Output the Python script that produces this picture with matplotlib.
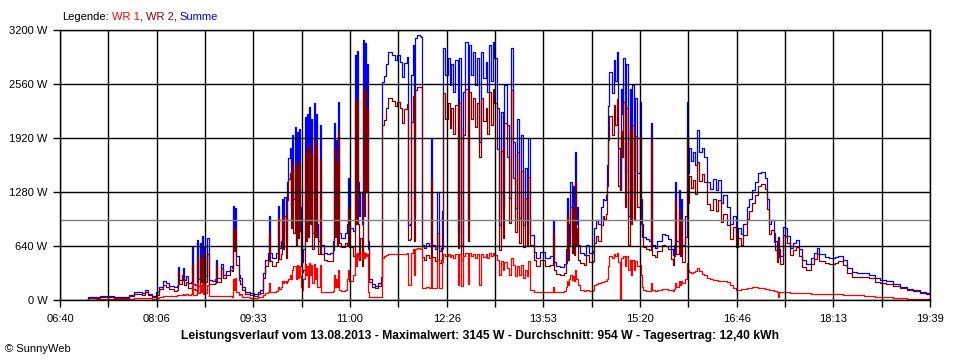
import numpy as np
import matplotlib
matplotlib.use("Agg")
import matplotlib.pyplot as plt
from matplotlib.ticker import FixedLocator, FuncFormatter

plt.rcParams["font.family"] = ["Liberation Sans", "DejaVu Sans"]

# Zeit in Minuten seit Mitternacht (06:40 = 400), Leistung in W
minutes = [
    424, 425, 432, 436, 442, 448, 454, 458, 462, 466,
    470, 473, 476, 479, 482, 486, 489, 492, 495, 498,
    502, 505, 506, 507, 509, 510, 511, 513, 515, 517,
    518, 519, 521, 523, 524, 525, 526, 527, 528, 529,
    530, 532, 533, 536, 539, 540, 541, 544, 546, 549,
    552, 554, 555, 556, 557, 558, 560, 561, 563, 566,
    570, 574, 577, 579, 582, 584, 586, 587, 588, 590,
    593, 595, 596, 598, 599, 600, 601, 602, 603, 604,
    606, 607, 608, 609, 610, 611, 612, 613, 614, 615,
    616, 617, 618, 619, 620, 621, 622, 623, 624, 625,
    626, 627, 628, 629, 630, 631, 633, 634, 636, 639,
    642, 644, 645, 646, 647, 648, 649, 650, 652, 655,
    657, 658, 659, 662, 664, 665, 666, 667, 668, 669,
    670, 671, 672, 673, 674, 675, 676, 677, 679, 682,
    685, 687, 688, 690, 692, 694, 697, 700, 702, 704,
    706, 708, 711, 712, 713, 714, 716, 717, 718, 720,
    722, 723, 724, 726, 728, 730, 732, 733, 736, 738,
    739, 741, 742, 743, 745, 747, 749, 750, 752, 754,
    756, 757, 759, 761, 763, 765, 766, 768, 770, 772,
    773, 775, 777, 779, 781, 782, 784, 786, 788, 789,
    791, 793, 795, 797, 798, 800, 802, 804, 806, 807,
    809, 811, 813, 815, 816, 818, 819, 821, 824, 826,
    830, 834, 839, 841, 842, 844, 848, 851, 853, 854,
    855, 856, 857, 858, 859, 860, 861, 862, 863, 864,
    866, 869, 871, 874, 877, 878, 880, 882, 884, 886,
    887, 889, 890, 891, 892, 894, 896, 897, 899, 900,
    901, 902, 903, 904, 906, 907, 909, 910, 911, 912,
    914, 915, 917, 919, 920, 921, 922, 925, 927, 929,
    930, 933, 935, 939, 942, 944, 947, 949, 950, 951,
    952, 954, 955, 956, 957, 960, 961, 962, 963, 965,
    967, 969, 970, 972, 975, 977, 979, 982, 985, 987,
    989, 992, 994, 997, 1000, 1003, 1005, 1007, 1010, 1012,
    1015, 1017, 1020, 1022, 1025, 1028, 1031, 1033, 1035, 1037,
    1039, 1040, 1042, 1043, 1044, 1045, 1047, 1049, 1051, 1054,
    1056, 1059, 1062, 1064, 1068, 1072, 1075, 1078, 1080, 1085,
    1089, 1094, 1097, 1101, 1105, 1109, 1114, 1120, 1124, 1130,
    1134, 1140, 1146, 1152, 1158, 1164, 1170, 1175, 1179,
]

summe_w = [
    0, 30, 35, 45, 50, 40, 35, 30, 60, 90,
    100, 85, 120, 75, 45, 90, 160, 225, 200, 170,
    155, 170, 390, 240, 300, 380, 240, 280, 200, 210,
    630, 190, 180, 710, 250, 680, 300, 760, 270, 640,
    290, 730, 240, 230, 250, 470, 260, 430, 300, 340,
    400, 380, 1120, 700, 1090, 520, 300, 260, 160, 100,
    80, 75, 100, 115, 320, 480, 560, 1000, 560, 500,
    560, 1120, 620, 700, 1200, 800, 1220, 700, 1400, 1680,
    1800, 1100, 1950, 1200, 2050, 900, 1990, 1000, 2030, 1100,
    560, 450, 600, 2170, 1000, 2200, 900, 2290, 1200, 2150,
    800, 2330, 1000, 2200, 900, 700, 2080, 650, 560, 550,
    560, 700, 2100, 900, 1900, 800, 2350, 800, 740, 800,
    900, 1450, 850, 820, 2900, 1300, 2950, 1400, 1000, 1280,
    900, 3080, 1500, 3050, 1800, 2800, 700, 250, 190, 170,
    200, 270, 2580, 2650, 2800, 2940, 2900, 2840, 2900, 2820,
    2640, 2810, 2880, 890, 900, 2670, 3020, 1000, 3100, 3145,
    3130, 3120, 650, 620, 680, 640, 1920, 650, 600, 1280,
    580, 620, 1050, 2990, 2670, 2870, 2550, 2800, 2470, 2850,
    800, 2870, 650, 2470, 3060, 890, 3020, 2670, 2940, 2550,
    2870, 1870, 2940, 2630, 2820, 2470, 3020, 2600, 3060, 2870,
    2270, 890, 2230, 1090, 2550, 2070, 1210, 2990, 1870, 1090,
    2150, 970, 1950, 890, 1560, 920, 1920, 770, 570, 500,
    570, 500, 520, 950, 450, 400, 390, 430, 600, 1210,
    650, 900, 1400, 800, 1350, 750, 1750, 900, 1100, 650,
    560, 530, 650, 560, 580, 850, 950, 900, 1100, 1200,
    1180, 1250, 1600, 2300, 2700, 2450, 2850, 2600, 2940, 1800,
    1300, 2500, 2200, 2870, 1500, 2800, 1000, 2500, 1200, 2550,
    1300, 2400, 1500, 2350, 1200, 900, 750, 720, 700, 2100,
    650, 620, 700, 780, 770, 720, 600, 530, 650, 1400,
    700, 1300, 700, 1200, 650, 1000, 2350, 1500, 1800, 1650,
    1750, 1600, 2015, 1750, 1800, 1700, 1400, 1320, 1440, 1300,
    1420, 1150, 1250, 1100, 900, 1000, 750, 850, 780, 900,
    1100, 1200, 1300, 1400, 1500, 1520, 1450, 1200, 900, 950,
    800, 700, 550, 750, 600, 520, 870, 850, 760, 620,
    680, 710, 600, 470, 430, 500, 560, 620, 540, 510,
    500, 510, 525, 480, 380, 330, 325, 320, 300, 255,
    240, 220, 190, 160, 135, 115, 90, 80, 80,
]

wr1_w = [
    0, 5, 10, 15, 15, 12, 10, 8, 15, 20,
    25, 22, 25, 20, 15, 25, 35, 45, 45, 45,
    45, 55, 60, 55, 65, 70, 65, 70, 60, 70,
    200, 60, 60, 200, 80, 180, 90, 200, 70, 190,
    80, 180, 50, 45, 45, 50, 45, 45, 45, 45,
    45, 40, 250, 120, 260, 100, 60, 70, 40, 30,
    25, 25, 30, 35, 60, 80, 100, 200, 100, 100,
    110, 150, 130, 150, 220, 200, 230, 200, 220, 250,
    300, 250, 350, 400, 400, 250, 420, 260, 400, 280,
    160, 120, 250, 430, 300, 400, 150, 440, 300, 420,
    200, 430, 250, 380, 150, 150, 420, 100, 90, 90,
    95, 110, 300, 150, 250, 150, 350, 120, 110, 120,
    250, 350, 220, 300, 550, 400, 560, 500, 520, 550,
    500, 570, 500, 560, 520, 550, 100, 40, 30, 30,
    30, 40, 500, 520, 530, 540, 545, 540, 550, 545,
    540, 550, 555, 180, 180, 560, 600, 300, 610, 620,
    610, 600, 140, 140, 150, 140, 500, 140, 140, 480,
    140, 140, 450, 540, 520, 540, 510, 530, 500, 540,
    180, 540, 170, 520, 560, 190, 560, 520, 550, 500,
    540, 180, 550, 510, 540, 500, 560, 520, 560, 530,
    480, 300, 460, 350, 450, 380, 300, 500, 420, 280,
    400, 300, 420, 260, 350, 280, 460, 120, 100, 95,
    95, 95, 100, 150, 100, 95, 95, 110, 160, 230,
    180, 250, 300, 240, 280, 220, 350, 250, 250, 180,
    120, 110, 115, 110, 115, 180, 190, 200, 210, 210,
    220, 230, 250, 400, 520, 500, 540, 520, 560, 450,
    0, 500, 500, 520, 400, 520, 350, 480, 300, 480,
    350, 460, 400, 420, 300, 150, 120, 110, 110, 200,
    120, 110, 115, 125, 130, 120, 115, 110, 130, 200,
    150, 220, 180, 230, 200, 250, 440, 350, 330, 320,
    330, 340, 380, 340, 310, 300, 260, 250, 240, 240,
    230, 220, 225, 210, 180, 140, 120, 120, 125, 130,
    140, 145, 155, 150, 145, 140, 130, 125, 120, 115,
    110, 105, 100, 40, 95, 90, 95, 95, 90, 85,
    85, 85, 80, 80, 80, 75, 75, 72, 72, 70,
    70, 70, 68, 65, 62, 60, 55, 50, 45, 40,
    35, 30, 25, 20, 15, 12, 10, 8, 8,
]

y_ticks = [0, 640, 1280, 1920, 2560, 3200]
x_tick_labels = ["06:40", "08:06", "09:33", "11:00", "12:26",
                 "13:53", "15:20", "16:46", "18:13", "19:39"]
day_start, day_end = 400, 1179
average_w = 954
title = ("Leistungsverlauf vom 13.08.2013 - Maximalwert: 3145 W - "
         "Durchschnitt: 954 W - Tagesertrag: 12,40 kWh")

COLORS = {"WR 1": "#ff0000", "WR 2": "#800000", "Summe": "#0000ff"}

t = np.array(minutes)
summe = np.array(summe_w)
wr1 = np.array(wr1_w)
wr2 = summe - wr1

W, H = 960, 360
fig = plt.figure(figsize=(W / 100, H / 100), dpi=100)
ax = fig.add_axes([60 / W, 60 / H, 870 / W, 270 / H])

ax.step(t, summe, where="post", color=COLORS["Summe"], lw=0.9, zorder=2)
ax.step(t, wr2, where="post", color=COLORS["WR 2"], lw=0.9, zorder=2.1)
ax.step(t, wr1, where="post", color=COLORS["WR 1"], lw=0.9, zorder=2.2)
ax.axhline(average_w, color="#808080", lw=1.0, zorder=3.5)

ax.set_xlim(day_start, day_end)
ax.set_ylim(0, 3200)

major_x = np.linspace(day_start, day_end, len(x_tick_labels))
minor_x = (major_x[:-1] + major_x[1:]) / 2
ax.xaxis.set_major_locator(FixedLocator(major_x))
ax.xaxis.set_minor_locator(FixedLocator(minor_x))
ax.set_xticklabels(x_tick_labels)
ax.yaxis.set_major_locator(FixedLocator(y_ticks))
ax.yaxis.set_major_formatter(FuncFormatter(lambda v, p: f"{int(v)} W"))

ax.set_axisbelow(False)
ax.grid(True, which="both", axis="x", color="black", lw=1.0, zorder=3)
ax.grid(True, which="major", axis="y", color="black", lw=1.0, zorder=3)
for s in ax.spines.values():
    s.set_color("black")
    s.set_linewidth(1.0)
    s.set_zorder(4)
ax.tick_params(which="both", direction="out", length=5, width=1.0,
               color="black", labelsize=8, labelcolor="black")
ax.tick_params(axis="x", pad=5)
ax.tick_params(axis="y", pad=4)

fig.text(480 / W, 1 - 336 / H, title, ha="center", va="center",
         fontsize=8.7, fontweight="bold")
fig.text(5 / W, 1 - 349 / H, "© SunnyWeb", ha="left", va="center", fontsize=8)

# Legende mit farbigen Teilen
renderer = fig.canvas.get_renderer()
legend_parts = [("Legende:", "black", 3), ("WR 1", COLORS["WR 1"], 0),
                (",", "black", 3), ("WR 2", COLORS["WR 2"], 0),
                (",", "black", 3), ("Summe", COLORS["Summe"], 0)]
x = 62
for text, color, gap in legend_parts:
    txt = fig.text(x / W, 1 - 17 / H, text, color=color, fontsize=8,
                   ha="left", va="center")
    x += txt.get_window_extent(renderer).width + gap

fig.savefig("out.png", dpi=100)
